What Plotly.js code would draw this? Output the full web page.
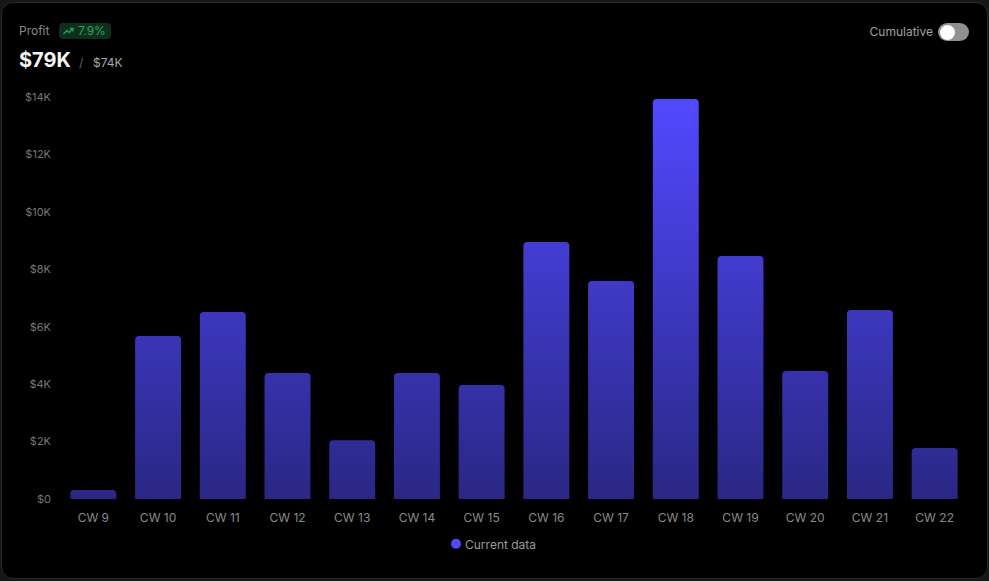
<!DOCTYPE html>
<html>
<head>
<meta charset="utf-8">
<script src="https://cdn.plot.ly/plotly-3.0.1.min.js"></script>
<style>
  html, body { margin: 0; padding: 0; width: 989px; height: 581px; background: #161616; overflow: hidden; font-family: Inter, "Noto Sans", sans-serif; }
  #card { position: absolute; left: 1px; top: 2px; width: 985px; height: 575px; background: #000; border: 1px solid #2a2a2a; border-radius: 12px; }
  #chart { position: absolute; left: 0; top: 0; width: 989px; height: 581px; }
  .hdr { position: absolute; white-space: nowrap; }
  #profit { left: 19px; top: 23px; font-size: 12px; color: #8a8a8a; line-height: 16px; }
  #badge { left: 59px; top: 23px; height: 16px; padding: 0 5px 0 4px; background: #0e2f1b; border-radius: 4px; font-size: 12px; line-height: 16px; color: #25a85c; display: flex; align-items: center; gap: 4px; }
  #big { left: 19px; top: 49px; font-size: 20px; font-weight: 700; color: #f5f5f5; line-height: 22px; }
  #slash { left: 79px; top: 55px; font-size: 12px; color: #666; line-height: 16px; }
  #prev { left: 93px; top: 55px; font-size: 12px; color: #a8a8a8; line-height: 16px; }
  #cum { right: 56px; top: 24px; font-size: 12px; color: #a0a0a0; line-height: 16px; }
  #toggle { left: 938px; top: 23px; width: 31px; height: 18px; border-radius: 9px; background: #8f8f94; }
  #knob { position: absolute; left: 1.5px; top: 1.5px; width: 15px; height: 15px; border-radius: 8px; background: #fff; }
</style>
</head>
<body>
<div id="card"></div>
<div id="chart"></div>
<div class="hdr" id="profit">Profit</div>
<div class="hdr" id="badge"><svg width="11" height="8" viewBox="0 0 11 8"><polyline points="0.5,7 4,3.5 6,5.5 10,1.5" fill="none" stroke="#25a85c" stroke-width="1.3"/><polyline points="7,1.5 10,1.5 10,4.5" fill="none" stroke="#25a85c" stroke-width="1.3"/></svg><span>7.9%</span></div>
<div class="hdr" id="big">$79K</div>
<div class="hdr" id="slash">/</div>
<div class="hdr" id="prev">$74K</div>
<div class="hdr" id="cum">Cumulative</div>
<div class="hdr" id="toggle"><div id="knob"></div></div>
<script>
const weeks = ["CW 9","CW 10","CW 11","CW 12","CW 13","CW 14","CW 15","CW 16","CW 17","CW 18","CW 19","CW 20","CW 21","CW 22"];
const profit = [310, 5680, 6510, 4390, 2050, 4390, 3970, 8950, 7590, 13930, 8460, 4460, 6580, 1780];
const yTickVals = [0, 2000, 4000, 6000, 8000, 10000, 12000, 14000];
const yTickText = ["$0", "$2K", "$4K", "$6K", "$8K", "$10K", "$12K", "$14K"];
const seriesName = "Current data";

const traces = [
  {
    type: "bar", x: weeks, y: profit, showlegend: false,
    marker: { color: "#3f38c8", cornerradius: 4 },
    hoverinfo: "x+y"
  },
  {
    type: "scatter", mode: "markers", x: [null], y: [null], name: seriesName,
    marker: { color: "#5248ff", size: 10, symbol: "circle" }, hoverinfo: "skip"
  }
];

const layout = {
  width: 989, height: 581,
  paper_bgcolor: "rgba(0,0,0,0)", plot_bgcolor: "rgba(0,0,0,0)",
  margin: { l: 61, r: 22, t: 97, b: 82 },
  bargap: 0.29,
  font: { family: "Inter, 'Noto Sans', sans-serif", color: "#888" },
  xaxis: {
    showgrid: false, zeroline: false, showline: false, ticks: "",
    tickfont: { size: 12, color: "#8a8a8a" }, ticklabelstandoff: 10, fixedrange: true
  },
  yaxis: {
    range: [0, 14000], showgrid: false, zeroline: false, showline: false, ticks: "",
    tickvals: yTickVals, ticktext: yTickText,
    tickfont: { size: 11, color: "#767676" }, ticklabelstandoff: 9, fixedrange: true
  },
  showlegend: true,
  legend: {
    orientation: "h", xref: "container", yref: "container", x: 0.5, xanchor: "center",
    y: 0.064, yanchor: "middle", font: { size: 12, color: "#9a9a9a" }, itemclick: false, itemdoubleclick: false
  }
};

function applyStyling(gd) {
  const svg = gd.querySelector(".main-svg");
  if (!svg) return;
  let defs = svg.querySelector("defs");
  if (!defs) { defs = document.createElementNS("http://www.w3.org/2000/svg", "defs"); svg.insertBefore(defs, svg.firstChild); }
  let grad = svg.querySelector("#barGrad");
  const h = gd._fullLayout._size.h;
  if (!grad) {
    grad = document.createElementNS("http://www.w3.org/2000/svg", "linearGradient");
    grad.setAttribute("id", "barGrad");
    grad.setAttribute("gradientUnits", "userSpaceOnUse");
    grad.setAttribute("x1", "0"); grad.setAttribute("x2", "0");
    const s1 = document.createElementNS("http://www.w3.org/2000/svg", "stop");
    s1.setAttribute("offset", "0"); s1.setAttribute("stop-color", "#5249ff");
    const s2 = document.createElementNS("http://www.w3.org/2000/svg", "stop");
    s2.setAttribute("offset", "1"); s2.setAttribute("stop-color", "#2a2784");
    grad.appendChild(s1); grad.appendChild(s2);
    defs.appendChild(grad);
  }
  grad.setAttribute("y1", "0"); grad.setAttribute("y2", String(h));
  gd.querySelectorAll(".barlayer .point path").forEach(p => { p.style.fill = "url(#barGrad)"; });
  // tighten the gap between legend dot and its label
  gd.querySelectorAll(".legend .legendtext").forEach(t => { t.setAttribute("x", "29"); });
}

Plotly.newPlot("chart", traces, layout, { displayModeBar: false }).then(gd => {
  applyStyling(gd);
  gd.on("plotly_afterplot", () => applyStyling(gd));
});
</script>
</body>
</html>
